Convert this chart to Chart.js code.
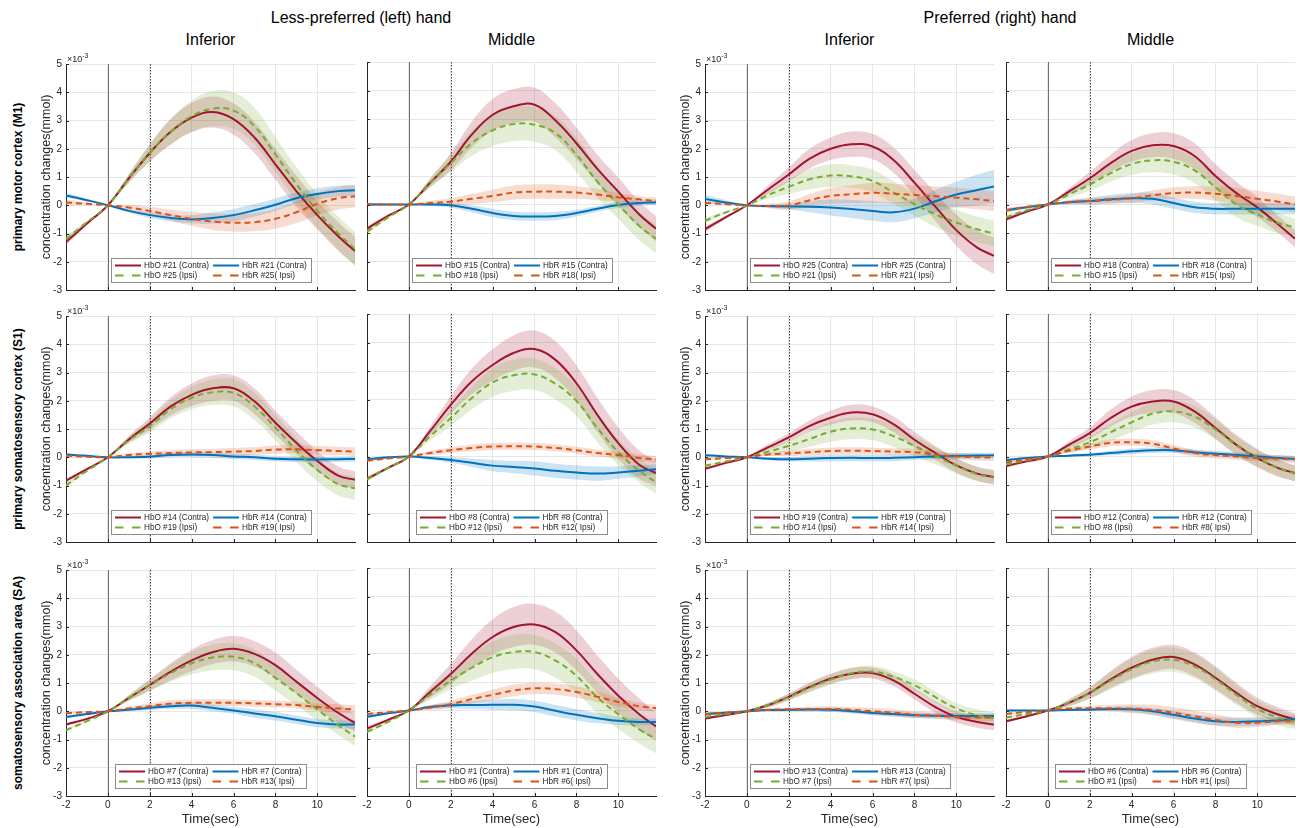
<!DOCTYPE html>
<html lang="en">
<head>
  <meta charset="UTF-8" />
  <title>HbO / HbR block averages</title>
  <script src="https://cdn.jsdelivr.net/npm/chart.js"></script>
  <style>
    body { margin: 0; background: #fff; font-family: "Liberation Sans", Arial, Helvetica, sans-serif; color: #262626; }
    #page { position: relative; width: 1300px; height: 828px; overflow: hidden; }
    canvas { position: absolute; }
    .txt { position: absolute; white-space: nowrap; line-height: 1; }
    .head { font-size: 16px; color: #000; transform: translate(-50%, -50%); }
    .rowlab { font-size: 12px; font-weight: bold; color: #000; transform: translate(-50%, -50%) rotate(-90deg); }
    .exp { font-size: 9px; color: #262626; }
    .exp sup { font-size: 7px; vertical-align: 4px; }
  </style>
</head>
<body>
<div id="page"></div>
<script>
  // time axis (sec) and ticks
  const times = [-2, -1, 0, 1, 2, 3, 4, 5, 6, 7, 8, 9, 10, 11, 11.8];
  const xTicks = [-2, 0, 2, 4, 6, 8, 10];
  const yTicks = [-3, -2, -1, 0, 1, 2, 3, 4, 5];
  const onsetT = 0, taskEndT = 2;

  const handLabels = ['Less-preferred (left) hand', 'Preferred (right) hand'];
  const colLabels = ['Inferior', 'Middle', 'Inferior', 'Middle'];
  const rowLabels = ['primary motor cortex (M1)', 'primary somatosensory cortex (S1)', 'somatosensory association area (SA)'];
  const contraCh = [[21, 15, 25, 18], [14, 8, 19, 12], [7, 1, 13, 6]];
  const ipsiCh = [[25, 18, 21, 15], [19, 12, 14, 8], [13, 6, 7, 1]];

  // values in 1e-3 mmol; LI = less-preferred inferior, LM = less-preferred middle, RI / RM = preferred
  // ---- M1 ----
  const M1_LI_hboC = [-1.3, -0.65, 0, 0.95, 1.85, 2.6, 3.1, 3.3, 3.05, 2.4, 1.45, 0.5, -0.35, -1.1, -1.62];
  const M1_LI_hbrC = [0.35, 0.18, 0, -0.2, -0.35, -0.45, -0.5, -0.45, -0.35, -0.18, 0.02, 0.25, 0.4, 0.5, 0.53];
  const M1_LI_hboI = [-1.2, -0.6, 0, 0.95, 1.85, 2.6, 3.15, 3.42, 3.35, 2.8, 1.8, 0.75, -0.2, -1.0, -1.55];
  const M1_LI_hbrI = [0.1, 0.05, 0, -0.08, -0.2, -0.35, -0.48, -0.58, -0.62, -0.6, -0.48, -0.25, 0.05, 0.25, 0.32];
  const M1_LI_hboC_sd = [0.12, 0.06, 0, 0.15, 0.3, 0.45, 0.52, 0.55, 0.55, 0.55, 0.55, 0.55, 0.5, 0.5, 0.5];
  const M1_LI_hbrC_sd = [0.08, 0.04, 0, 0.06, 0.1, 0.12, 0.15, 0.2, 0.22, 0.22, 0.22, 0.2, 0.2, 0.2, 0.2];
  const M1_LI_hboI_sd = [0.12, 0.06, 0, 0.15, 0.3, 0.45, 0.55, 0.62, 0.65, 0.65, 0.62, 0.6, 0.6, 0.6, 0.6];
  const M1_LI_hbrI_sd = [0.1, 0.05, 0, 0.1, 0.15, 0.2, 0.25, 0.3, 0.32, 0.32, 0.35, 0.38, 0.4, 0.4, 0.4];

  const M1_LM_hboC = [-0.85, -0.4, 0, 0.75, 1.5, 2.45, 3.15, 3.45, 3.5, 2.95, 2.15, 1.25, 0.45, -0.35, -0.85];
  const M1_LM_hbrC = [0, 0, 0, 0, -0.03, -0.15, -0.3, -0.4, -0.42, -0.4, -0.3, -0.15, -0.02, 0.05, 0.08];
  const M1_LM_hboI = [-0.95, -0.45, 0, 0.75, 1.45, 2.15, 2.6, 2.82, 2.8, 2.5, 1.75, 0.8, 0, -0.75, -1.2];
  const M1_LM_hbrI = [0, 0, 0, 0.05, 0.1, 0.2, 0.3, 0.42, 0.45, 0.45, 0.42, 0.35, 0.25, 0.18, 0.12];
  const M1_LM_hboC_sd = [0.08, 0.04, 0, 0.15, 0.3, 0.45, 0.55, 0.6, 0.6, 0.6, 0.55, 0.5, 0.5, 0.45, 0.45];
  const M1_LM_hbrC_sd = [0.05, 0.03, 0, 0.05, 0.08, 0.12, 0.15, 0.15, 0.15, 0.15, 0.12, 0.1, 0.1, 0.1, 0.1];
  const M1_LM_hboI_sd = [0.1, 0.05, 0, 0.15, 0.3, 0.45, 0.55, 0.6, 0.6, 0.6, 0.6, 0.55, 0.5, 0.5, 0.5];
  const M1_LM_hbrI_sd = [0.05, 0.03, 0, 0.08, 0.12, 0.18, 0.22, 0.25, 0.25, 0.25, 0.22, 0.2, 0.15, 0.12, 0.12];

  const M1_RI_hboC = [-0.85, -0.42, 0, 0.55, 1.09, 1.65, 2.0, 2.16, 2.08, 1.6, 0.8, -0.05, -0.88, -1.5, -1.79];
  const M1_RI_hbrC = [0.22, 0.1, 0, -0.03, -0.04, -0.05, -0.08, -0.13, -0.2, -0.25, -0.12, 0.14, 0.38, 0.54, 0.66];
  const M1_RI_hboI = [-0.55, -0.25, 0, 0.35, 0.65, 0.92, 1.05, 1.02, 0.86, 0.45, 0.04, -0.32, -0.61, -0.85, -1.0];
  const M1_RI_hbrI = [0.08, 0.04, 0, -0.03, -0.01, 0.18, 0.33, 0.39, 0.44, 0.41, 0.36, 0.32, 0.27, 0.21, 0.15];
  const M1_RI_hboC_sd = [0.1, 0.05, 0, 0.15, 0.25, 0.35, 0.4, 0.45, 0.45, 0.45, 0.45, 0.5, 0.55, 0.6, 0.65];
  const M1_RI_hbrC_sd = [0.15, 0.08, 0, 0.05, 0.1, 0.2, 0.28, 0.32, 0.35, 0.35, 0.35, 0.4, 0.45, 0.55, 0.6];
  const M1_RI_hboI_sd = [0.1, 0.05, 0, 0.12, 0.25, 0.35, 0.4, 0.4, 0.4, 0.4, 0.4, 0.45, 0.45, 0.45, 0.45];
  const M1_RI_hbrI_sd = [0.05, 0.03, 0, 0.08, 0.15, 0.22, 0.28, 0.32, 0.35, 0.35, 0.35, 0.35, 0.35, 0.35, 0.35];

  const M1_RM_hboC = [-0.52, -0.25, 0, 0.45, 0.92, 1.45, 1.88, 2.08, 2.05, 1.7, 1.0, 0.4, -0.1, -0.7, -1.2];
  const M1_RM_hbrC = [-0.2, -0.1, 0, 0.08, 0.12, 0.18, 0.22, 0.2, 0.05, -0.1, -0.15, -0.15, -0.15, -0.15, -0.15];
  const M1_RM_hboI = [-0.45, -0.2, 0, 0.35, 0.7, 1.1, 1.42, 1.55, 1.5, 1.2, 0.6, 0.0, -0.35, -0.65, -0.8];
  const M1_RM_hbrI = [-0.2, -0.08, 0, 0.08, 0.12, 0.16, 0.22, 0.32, 0.4, 0.42, 0.38, 0.3, 0.2, 0.1, 0.0];
  const M1_RM_hboC_sd = [0.08, 0.04, 0, 0.12, 0.22, 0.3, 0.38, 0.42, 0.45, 0.45, 0.42, 0.4, 0.35, 0.3, 0.3];
  const M1_RM_hbrC_sd = [0.08, 0.04, 0, 0.08, 0.12, 0.15, 0.18, 0.2, 0.2, 0.2, 0.2, 0.2, 0.2, 0.2, 0.2];
  const M1_RM_hboI_sd = [0.08, 0.04, 0, 0.12, 0.22, 0.3, 0.38, 0.42, 0.45, 0.45, 0.45, 0.45, 0.4, 0.35, 0.3];
  const M1_RM_hbrI_sd = [0.08, 0.04, 0, 0.06, 0.1, 0.12, 0.15, 0.18, 0.2, 0.22, 0.25, 0.28, 0.28, 0.28, 0.28];

  // ---- S1 ----
  const S1_LI_hboC = [-0.83, -0.42, 0, 0.63, 1.19, 1.8, 2.21, 2.44, 2.44, 1.98, 1.22, 0.51, -0.13, -0.65, -0.8];
  const S1_LI_hbrC = [0.1, 0.05, 0, 0, 0.02, 0.08, 0.1, 0.08, 0.03, 0, -0.05, -0.07, -0.08, -0.07, -0.06];
  const S1_LI_hboI = [-1.0, -0.48, 0, 0.6, 1.1, 1.7, 2.1, 2.3, 2.28, 1.8, 1.05, 0.25, -0.45, -0.95, -1.1];
  const S1_LI_hbrI = [0.05, 0.02, 0, 0.08, 0.12, 0.15, 0.17, 0.18, 0.2, 0.22, 0.27, 0.28, 0.25, 0.22, 0.2];
  const S1_LI_hboC_sd = [0.08, 0.04, 0, 0.12, 0.22, 0.32, 0.4, 0.45, 0.45, 0.45, 0.42, 0.4, 0.35, 0.32, 0.3];
  const S1_LI_hbrC_sd = [0.05, 0.03, 0, 0.04, 0.06, 0.08, 0.1, 0.1, 0.1, 0.1, 0.1, 0.1, 0.1, 0.1, 0.1];
  const S1_LI_hboI_sd = [0.08, 0.04, 0, 0.12, 0.22, 0.32, 0.4, 0.45, 0.48, 0.48, 0.45, 0.42, 0.4, 0.4, 0.4];
  const S1_LI_hbrI_sd = [0.05, 0.03, 0, 0.06, 0.08, 0.1, 0.12, 0.12, 0.13, 0.14, 0.15, 0.15, 0.15, 0.15, 0.15];

  const S1_LM_hboC = [-0.78, -0.4, 0, 0.88, 1.81, 2.63, 3.21, 3.63, 3.77, 3.39, 2.57, 1.46, 0.47, -0.29, -0.58];
  const S1_LM_hbrC = [-0.1, -0.03, 0, -0.05, -0.12, -0.22, -0.32, -0.37, -0.42, -0.5, -0.56, -0.6, -0.56, -0.5, -0.45];
  const S1_LM_hboI = [-0.8, -0.4, 0, 0.7, 1.35, 2.05, 2.6, 2.85, 2.88, 2.55, 1.95, 1.0, 0.15, -0.5, -0.9];
  const S1_LM_hbrI = [-0.15, -0.07, 0, 0.12, 0.22, 0.3, 0.35, 0.36, 0.35, 0.3, 0.22, 0.12, 0.05, -0.05, -0.1];
  const S1_LM_hboC_sd = [0.08, 0.04, 0, 0.15, 0.3, 0.45, 0.55, 0.62, 0.65, 0.65, 0.62, 0.6, 0.55, 0.5, 0.45];
  const S1_LM_hbrC_sd = [0.05, 0.03, 0, 0.06, 0.1, 0.15, 0.2, 0.22, 0.25, 0.25, 0.25, 0.25, 0.22, 0.2, 0.18];
  const S1_LM_hboI_sd = [0.08, 0.04, 0, 0.15, 0.28, 0.4, 0.5, 0.55, 0.55, 0.55, 0.52, 0.5, 0.45, 0.42, 0.4];
  const S1_LM_hbrI_sd = [0.05, 0.03, 0, 0.08, 0.1, 0.12, 0.12, 0.12, 0.12, 0.12, 0.12, 0.12, 0.12, 0.12, 0.12];

  const S1_RI_hboC = [-0.41, -0.2, 0, 0.35, 0.7, 1.11, 1.4, 1.58, 1.52, 1.17, 0.62, 0.15, -0.29, -0.58, -0.7];
  const S1_RI_hbrC = [0.07, 0.03, 0, -0.05, -0.07, -0.05, -0.03, -0.02, -0.03, -0.02, 0, 0.03, 0.05, 0.06, 0.07];
  const S1_RI_hboI = [-0.3, -0.15, 0, 0.2, 0.4, 0.65, 0.9, 1.02, 0.98, 0.75, 0.4, 0.05, -0.3, -0.6, -0.72];
  const S1_RI_hbrI = [-0.07, -0.03, 0, 0.1, 0.14, 0.18, 0.22, 0.23, 0.22, 0.2, 0.18, 0.1, 0.03, 0, -0.01];
  const S1_RI_hboC_sd = [0.05, 0.03, 0, 0.1, 0.15, 0.2, 0.25, 0.28, 0.28, 0.28, 0.28, 0.25, 0.25, 0.25, 0.25];
  const S1_RI_hbrC_sd = [0.05, 0.03, 0, 0.05, 0.08, 0.1, 0.12, 0.12, 0.12, 0.12, 0.1, 0.1, 0.1, 0.1, 0.1];
  const S1_RI_hboI_sd = [0.05, 0.03, 0, 0.1, 0.18, 0.28, 0.35, 0.38, 0.38, 0.38, 0.35, 0.3, 0.28, 0.25, 0.25];
  const S1_RI_hbrI_sd = [0.05, 0.03, 0, 0.06, 0.1, 0.12, 0.12, 0.12, 0.12, 0.12, 0.12, 0.12, 0.12, 0.12, 0.12];

  const S1_RM_hboC = [-0.33, -0.17, 0, 0.41, 0.82, 1.35, 1.75, 1.93, 1.93, 1.58, 1.0, 0.41, -0.06, -0.41, -0.58];
  const S1_RM_hbrC = [-0.12, -0.05, 0, 0.03, 0.06, 0.12, 0.18, 0.22, 0.22, 0.15, 0.1, 0.05, 0, -0.05, -0.08];
  const S1_RM_hboI = [-0.28, -0.13, 0, 0.25, 0.5, 0.85, 1.2, 1.5, 1.58, 1.4, 0.95, 0.4, -0.05, -0.4, -0.6];
  const S1_RM_hbrI = [-0.2, -0.1, 0, 0.2, 0.35, 0.48, 0.5, 0.45, 0.28, 0.12, 0.05, 0, -0.05, -0.08, -0.1];
  const S1_RM_hboC_sd = [0.06, 0.03, 0, 0.12, 0.2, 0.3, 0.35, 0.4, 0.4, 0.4, 0.38, 0.35, 0.32, 0.3, 0.28];
  const S1_RM_hbrC_sd = [0.05, 0.03, 0, 0.04, 0.06, 0.08, 0.1, 0.1, 0.1, 0.1, 0.1, 0.1, 0.1, 0.1, 0.1];
  const S1_RM_hboI_sd = [0.06, 0.03, 0, 0.12, 0.2, 0.3, 0.35, 0.38, 0.38, 0.38, 0.35, 0.32, 0.3, 0.28, 0.28];
  const S1_RM_hbrI_sd = [0.05, 0.03, 0, 0.06, 0.1, 0.12, 0.12, 0.12, 0.12, 0.12, 0.12, 0.12, 0.12, 0.12, 0.12];

  // ---- SA ----
  const SA_LI_hboC = [-0.47, -0.27, 0, 0.47, 0.93, 1.4, 1.8, 2.09, 2.21, 2.03, 1.63, 1.05, 0.47, -0.06, -0.41];
  const SA_LI_hbrC = [-0.2, -0.1, 0, 0.05, 0.12, 0.18, 0.2, 0.12, 0.03, -0.08, -0.18, -0.3, -0.42, -0.47, -0.47];
  const SA_LI_hboI = [-0.67, -0.35, 0, 0.47, 0.92, 1.35, 1.7, 1.9, 1.93, 1.7, 1.18, 0.64, 0.06, -0.49, -0.9];
  const SA_LI_hbrI = [-0.07, -0.03, 0, 0.1, 0.18, 0.27, 0.3, 0.3, 0.3, 0.28, 0.25, 0.22, 0.15, 0.1, 0.06];
  const SA_LI_hboC_sd = [0.06, 0.03, 0, 0.1, 0.2, 0.3, 0.38, 0.42, 0.45, 0.45, 0.45, 0.42, 0.4, 0.35, 0.3];
  const SA_LI_hbrC_sd = [0.05, 0.03, 0, 0.05, 0.08, 0.1, 0.12, 0.12, 0.12, 0.15, 0.15, 0.15, 0.15, 0.15, 0.15];
  const SA_LI_hboI_sd = [0.06, 0.03, 0, 0.1, 0.2, 0.3, 0.4, 0.45, 0.48, 0.48, 0.45, 0.42, 0.4, 0.35, 0.33];
  const SA_LI_hbrI_sd = [0.05, 0.03, 0, 0.06, 0.1, 0.12, 0.12, 0.12, 0.12, 0.12, 0.12, 0.12, 0.12, 0.15, 0.15];

  const SA_LM_hboC = [-0.63, -0.33, 0, 0.64, 1.28, 1.99, 2.58, 2.93, 3.02, 2.75, 2.11, 1.28, 0.52, -0.13, -0.56];
  const SA_LM_hbrC = [-0.22, -0.1, 0, 0.12, 0.18, 0.19, 0.2, 0.2, 0.14, -0.01, -0.15, -0.27, -0.36, -0.4, -0.4];
  const SA_LM_hboI = [-0.75, -0.4, 0, 0.55, 1.05, 1.5, 1.87, 2.05, 2.05, 1.75, 1.22, 0.46, -0.13, -0.66, -1.0];
  const SA_LM_hbrI = [-0.12, -0.06, 0, 0.1, 0.22, 0.4, 0.55, 0.7, 0.78, 0.75, 0.65, 0.48, 0.3, 0.15, 0.08];
  const SA_LM_hboC_sd = [0.08, 0.04, 0, 0.2, 0.35, 0.5, 0.62, 0.7, 0.72, 0.72, 0.7, 0.65, 0.6, 0.55, 0.5];
  const SA_LM_hbrC_sd = [0.05, 0.03, 0, 0.06, 0.1, 0.15, 0.18, 0.2, 0.2, 0.2, 0.2, 0.18, 0.15, 0.12, 0.12];
  const SA_LM_hboI_sd = [0.08, 0.04, 0, 0.18, 0.3, 0.45, 0.55, 0.6, 0.6, 0.6, 0.58, 0.55, 0.52, 0.5, 0.5];
  const SA_LM_hbrI_sd = [0.05, 0.03, 0, 0.08, 0.12, 0.15, 0.18, 0.2, 0.2, 0.2, 0.2, 0.18, 0.15, 0.12, 0.12];

  const SA_RI_hboC = [-0.26, -0.13, 0, 0.21, 0.51, 0.86, 1.15, 1.33, 1.35, 1.09, 0.62, 0.15, -0.2, -0.38, -0.47];
  const SA_RI_hbrC = [-0.1, -0.05, 0, 0.04, 0.05, 0.06, 0.05, 0, -0.06, -0.1, -0.14, -0.16, -0.17, -0.17, -0.17];
  const SA_RI_hboI = [-0.2, -0.1, 0, 0.22, 0.5, 0.83, 1.12, 1.35, 1.4, 1.22, 0.92, 0.5, 0.1, -0.14, -0.24];
  const SA_RI_hbrI = [-0.1, -0.05, 0, 0.05, 0.07, 0.08, 0.08, 0.05, 0, -0.05, -0.12, -0.15, -0.2, -0.22, -0.22];
  const SA_RI_hboC_sd = [0.05, 0.03, 0, 0.08, 0.12, 0.16, 0.18, 0.2, 0.2, 0.2, 0.2, 0.2, 0.2, 0.2, 0.2];
  const SA_RI_hbrC_sd = [0.05, 0.03, 0, 0.04, 0.05, 0.06, 0.08, 0.08, 0.08, 0.1, 0.1, 0.1, 0.1, 0.1, 0.1];
  const SA_RI_hboI_sd = [0.05, 0.03, 0, 0.08, 0.12, 0.16, 0.18, 0.2, 0.2, 0.2, 0.2, 0.2, 0.2, 0.2, 0.2];
  const SA_RI_hbrI_sd = [0.05, 0.03, 0, 0.05, 0.06, 0.08, 0.1, 0.1, 0.12, 0.12, 0.12, 0.12, 0.12, 0.12, 0.12];

  const SA_RM_hboC = [-0.38, -0.2, 0, 0.27, 0.62, 1.09, 1.5, 1.78, 1.88, 1.62, 1.15, 0.62, 0.15, -0.14, -0.32];
  const SA_RM_hbrC = [0, 0, 0, 0.02, 0.03, 0.05, 0.04, -0.03, -0.15, -0.28, -0.38, -0.4, -0.38, -0.35, -0.3];
  const SA_RM_hboI = [-0.25, -0.12, 0, 0.27, 0.62, 1.05, 1.45, 1.72, 1.78, 1.55, 1.1, 0.55, 0.05, -0.25, -0.4];
  const SA_RM_hbrI = [-0.12, -0.05, 0, 0.07, 0.08, 0.08, 0.06, 0.02, -0.08, -0.2, -0.33, -0.43, -0.43, -0.38, -0.35];
  const SA_RM_hboC_sd = [0.05, 0.03, 0, 0.12, 0.2, 0.3, 0.38, 0.42, 0.42, 0.42, 0.4, 0.35, 0.3, 0.25, 0.22];
  const SA_RM_hbrC_sd = [0.04, 0.02, 0, 0.04, 0.06, 0.08, 0.1, 0.12, 0.15, 0.15, 0.15, 0.15, 0.15, 0.12, 0.12];
  const SA_RM_hboI_sd = [0.05, 0.03, 0, 0.12, 0.2, 0.3, 0.38, 0.42, 0.42, 0.42, 0.4, 0.35, 0.3, 0.28, 0.25];
  const SA_RM_hbrI_sd = [0.04, 0.02, 0, 0.05, 0.08, 0.12, 0.15, 0.18, 0.2, 0.2, 0.2, 0.18, 0.15, 0.12, 0.12];

  // grid of panels: [row][col]
  const panelData = [
    [
      [M1_LI_hboC, M1_LI_hbrC, M1_LI_hboI, M1_LI_hbrI, M1_LI_hboC_sd, M1_LI_hbrC_sd, M1_LI_hboI_sd, M1_LI_hbrI_sd],
      [M1_LM_hboC, M1_LM_hbrC, M1_LM_hboI, M1_LM_hbrI, M1_LM_hboC_sd, M1_LM_hbrC_sd, M1_LM_hboI_sd, M1_LM_hbrI_sd],
      [M1_RI_hboC, M1_RI_hbrC, M1_RI_hboI, M1_RI_hbrI, M1_RI_hboC_sd, M1_RI_hbrC_sd, M1_RI_hboI_sd, M1_RI_hbrI_sd],
      [M1_RM_hboC, M1_RM_hbrC, M1_RM_hboI, M1_RM_hbrI, M1_RM_hboC_sd, M1_RM_hbrC_sd, M1_RM_hboI_sd, M1_RM_hbrI_sd]
    ],
    [
      [S1_LI_hboC, S1_LI_hbrC, S1_LI_hboI, S1_LI_hbrI, S1_LI_hboC_sd, S1_LI_hbrC_sd, S1_LI_hboI_sd, S1_LI_hbrI_sd],
      [S1_LM_hboC, S1_LM_hbrC, S1_LM_hboI, S1_LM_hbrI, S1_LM_hboC_sd, S1_LM_hbrC_sd, S1_LM_hboI_sd, S1_LM_hbrI_sd],
      [S1_RI_hboC, S1_RI_hbrC, S1_RI_hboI, S1_RI_hbrI, S1_RI_hboC_sd, S1_RI_hbrC_sd, S1_RI_hboI_sd, S1_RI_hbrI_sd],
      [S1_RM_hboC, S1_RM_hbrC, S1_RM_hboI, S1_RM_hbrI, S1_RM_hboC_sd, S1_RM_hbrC_sd, S1_RM_hboI_sd, S1_RM_hbrI_sd]
    ],
    [
      [SA_LI_hboC, SA_LI_hbrC, SA_LI_hboI, SA_LI_hbrI, SA_LI_hboC_sd, SA_LI_hbrC_sd, SA_LI_hboI_sd, SA_LI_hbrI_sd],
      [SA_LM_hboC, SA_LM_hbrC, SA_LM_hboI, SA_LM_hbrI, SA_LM_hboC_sd, SA_LM_hbrC_sd, SA_LM_hboI_sd, SA_LM_hbrI_sd],
      [SA_RI_hboC, SA_RI_hbrC, SA_RI_hboI, SA_RI_hbrI, SA_RI_hboC_sd, SA_RI_hbrC_sd, SA_RI_hboI_sd, SA_RI_hbrI_sd],
      [SA_RM_hboC, SA_RM_hbrC, SA_RM_hboI, SA_RM_hbrI, SA_RM_hboC_sd, SA_RM_hbrC_sd, SA_RM_hboI_sd, SA_RM_hbrI_sd]
    ]
  ];

  // layout (page px)
  const colLeft = [66, 367, 705, 1006];
  const rowTop = [62, 314, 568];
  const plotW = 289, plotH = 228;
  const padL = 60, padT = 8, padR = 4, padB = 32;

  const FONT = '"Liberation Sans", Arial, Helvetica, sans-serif';
  const AXIS = '#262626';
  const GRID = '#e6e6e6';
  const CURVE = 0.4;
  const series = [
    { color: '#A2142F', band: 'rgba(162,20,47,0.2)', dash: [] },
    { color: '#0072BD', band: 'rgba(0,114,189,0.2)', dash: [] },
    { color: '#77AC30', band: 'rgba(119,172,48,0.2)', dash: [6, 4] },
    { color: '#D95319', band: 'rgba(217,83,25,0.2)', dash: [6, 4] }
  ];

  const page = document.getElementById('page');

  function addText(cls, html, x, y) {
    const d = document.createElement('div');
    d.className = 'txt ' + cls;
    d.innerHTML = html;
    d.style.left = x + 'px';
    d.style.top = y + 'px';
    page.appendChild(d);
    return d;
  }

  // headings
  addText('head', handLabels[0], (colLeft[0] + colLeft[1] + plotW) / 2, 18);
  addText('head', handLabels[1], (colLeft[2] + colLeft[3] + plotW) / 2, 18);
  colLabels.forEach((t, c) => addText('head', t, colLeft[c] + plotW / 2, 40));
  rowLabels.forEach((t, r) => addText('rowlab', t, 18, rowTop[r] + plotH / 2 + 1));

  const refLines = {
    id: 'refLines',
    beforeDatasetsDraw(chart) {
      const { ctx, chartArea: a, scales: { x } } = chart;
      ctx.save();
      ctx.lineWidth = 1;
      const p0 = Math.round(x.getPixelForValue(onsetT)) + 0.5;
      ctx.strokeStyle = '#707070';
      ctx.beginPath(); ctx.moveTo(p0, a.top); ctx.lineTo(p0, a.bottom); ctx.stroke();
      const p2 = Math.round(x.getPixelForValue(taskEndT)) + 0.5;
      ctx.strokeStyle = '#404040';
      ctx.setLineDash([1.5, 1.5]);
      ctx.beginPath(); ctx.moveTo(p2, a.top); ctx.lineTo(p2, a.bottom); ctx.stroke();
      ctx.restore();
    }
  };

  // MATLAB-style ticks pointing into the axes
  const innerTicks = {
    id: 'innerTicks',
    afterDatasetsDraw(chart) {
      const { ctx, chartArea: a, scales: { x, y } } = chart;
      ctx.save();
      ctx.strokeStyle = AXIS;
      ctx.lineWidth = 1;
      ctx.beginPath();
      y.ticks.forEach(t => {
        const py = Math.round(y.getPixelForValue(t.value)) + 0.5;
        ctx.moveTo(a.left, py); ctx.lineTo(a.left + 3, py);
      });
      x.ticks.forEach(t => {
        const px = Math.round(x.getPixelForValue(t.value)) + 0.5;
        ctx.moveTo(px, a.bottom); ctx.lineTo(px, a.bottom - 3);
      });
      ctx.stroke();
      ctx.restore();
    }
  };

  // boxed two-column legend at the bottom of each axes
  const panelLegend = {
    id: 'panelLegend',
    afterDraw(chart, args, opts) {
      const { ctx, chartArea: a } = chart;
      const it = opts.items;
      ctx.save();
      ctx.font = '8.2px ' + FONT;
      const w1 = Math.max(ctx.measureText(it[0].text).width, ctx.measureText(it[2].text).width);
      const w2 = Math.max(ctx.measureText(it[1].text).width, ctx.measureText(it[3].text).width);
      const boxW = Math.round(4 + 26 + 3 + w1 + 4 + 26 + 3 + w2 + 4);
      const boxH = 24;
      const x0 = Math.round((a.left + a.right - boxW) / 2) + 0.5;
      const y0 = Math.round(a.bottom - 8 - boxH) + 0.5;
      ctx.fillStyle = '#fff';
      ctx.fillRect(x0, y0, boxW, boxH);
      ctx.strokeStyle = '#8c8c8c';
      ctx.lineWidth = 1;
      ctx.strokeRect(x0, y0, boxW, boxH);
      const cols = [x0 + 3.5, x0 + 3.5 + 26 + 3 + w1 + 4];
      const rows = [y0 + 7, y0 + 17];
      it.forEach((item, k) => {
        const cx = cols[k % 2], cy = rows[Math.floor(k / 2)];
        ctx.strokeStyle = item.color;
        ctx.lineWidth = 2;
        ctx.setLineDash(item.dashed ? [8.5, 8.5] : []);
        ctx.beginPath(); ctx.moveTo(cx, cy); ctx.lineTo(cx + 26, cy); ctx.stroke();
        ctx.setLineDash([]);
        ctx.fillStyle = AXIS;
        ctx.textBaseline = 'middle';
        ctx.textAlign = 'left';
        ctx.fillText(item.text, cx + 29, cy + 0.5);
      });
      ctx.restore();
    }
  };

  const pts = arr => arr.map((v, i) => ({ x: times[i], y: v }));

  function makePanel(r, c) {
    const d = panelData[r][c];
    const showY = c === 0 || c === 2;
    const showX = r === 2;
    const cv = document.createElement('canvas');
    cv.width = padL + plotW + padR;
    cv.height = padT + plotH + padB;
    cv.style.left = (colLeft[c] - padL) + 'px';
    cv.style.top = (rowTop[r] - padT) + 'px';
    page.appendChild(cv);

    if (showY) addText('exp', '&times;10<sup>-3</sup>', colLeft[c] + 1, rowTop[r] - 10);

    const datasets = [];
    series.forEach((s, k) => {
      const m = d[k], sd = d[k + 4];
      datasets.push({
        data: pts(m.map((v, i) => v - sd[i])), borderWidth: 0, pointRadius: 0, fill: false,
        tension: CURVE, order: 20 - 2 * k
      });
      datasets.push({
        data: pts(m.map((v, i) => v + sd[i])), borderWidth: 0, pointRadius: 0, fill: '-1',
        backgroundColor: s.band, tension: CURVE, order: 19 - 2 * k
      });
    });
    series.forEach((s, k) => {
      datasets.push({
        data: pts(d[k]), borderColor: s.color, borderWidth: 2, borderDash: s.dash,
        pointRadius: 0, fill: false, tension: CURVE, order: 4 - k
      });
    });

    const cC = contraCh[r][c], cI = ipsiCh[r][c];
    const items = [
      { text: `HbO #${cC} (Contra)`, color: series[0].color, dashed: false },
      { text: `HbR #${cC} (Contra)`, color: series[1].color, dashed: false },
      { text: `HbO #${cI} (Ipsi)`, color: series[2].color, dashed: true },
      { text: `HbR #${cI}( Ipsi)`, color: series[3].color, dashed: true }
    ];

    new Chart(cv, {
      type: 'line',
      data: { datasets },
      plugins: [refLines, innerTicks, panelLegend],
      options: {
        responsive: false,
        animation: false,
        events: [],
        layout: { padding: { top: padT, right: padR, left: 0, bottom: 0 } },
        plugins: {
          legend: { display: false },
          tooltip: { enabled: false },
          panelLegend: { items }
        },
        scales: {
          x: {
            type: 'linear', min: -2, max: 11.8,
            afterBuildTicks: s => { s.ticks = xTicks.map(v => ({ value: v })); },
            afterFit: s => { s.height = padB; },
            grid: { color: GRID, drawTicks: false },
            border: { display: true, color: AXIS, width: 1 },
            ticks: { display: showX, padding: 3, color: AXIS, maxRotation: 0, autoSkip: false, font: { size: 10, family: FONT } },
            title: { display: showX, text: 'Time(sec)', color: AXIS, font: { size: 13, family: FONT }, padding: { top: 0, bottom: 1 } }
          },
          y: {
            type: 'linear', min: -3, max: 5,
            afterBuildTicks: s => { s.ticks = yTicks.map(v => ({ value: v })); },
            afterFit: s => { s.width = padL; },
            grid: { color: GRID, drawTicks: false },
            border: { display: true, color: AXIS, width: 1 },
            ticks: { display: showY, padding: 4, color: AXIS, font: { size: 10, family: FONT } },
            title: { display: showY, text: 'concentration changes(mmol)', color: AXIS, font: { size: 12.5, family: FONT }, padding: { top: 33, bottom: 0 } }
          }
        }
      }
    });
  }

  for (let r = 0; r < 3; r++) {
    for (let c = 0; c < 4; c++) makePanel(r, c);
  }
</script>
</body>
</html>
